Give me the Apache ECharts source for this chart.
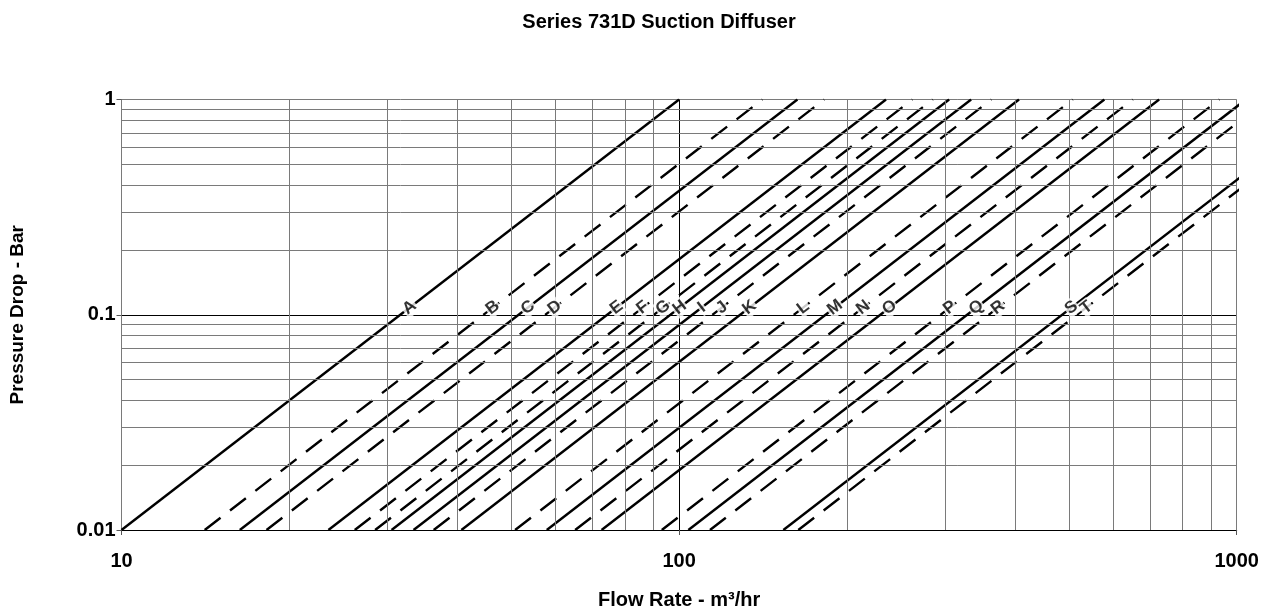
<!DOCTYPE html>
<html>
<head>
<meta charset="utf-8">
<script src="https://cdn.jsdelivr.net/npm/echarts@6/dist/echarts.min.js"></script>
<style>html,body{margin:0;padding:0;background:#fff;}#c{width:1274px;height:615px;}</style>
</head>
<body>
<div id="c"></div>
<script>
// ---- data ----
const lineNames = ['A','B','C','D','E','F','G','H','I','J','K','L','M','N','O','P','Q','R','S','T'];
// flow (m3/hr) where each curve crosses 0.01 bar
const flowAtLowP = [10.0,14.1,16.3,18.2,23.5,26.2,28.5,30.5,33.4,36.3,40.7,50.8,57.9,65.1,72.6,93.1,103.9,113.6,153.8,163.6];
// flow (m3/hr) where each curve crosses 1 bar
const flowAtHighP = [100,141,163,182,235,262,285,305,334,363,407,508,579,651,726,931,1039,1136,1538,1636];
const lineDashed = [false,true,false,true,false,true,true,false,false,true,false,true,false,true,false,true,false,true,false,true];
const lowP = 0.01, highP = 1;
const labelP = 0.108;
const xTickLabels = [10, 100, 1000];
const yTickLabels = [0.01, 0.1, 1];
const xMinorGrid = [20,30,40,50,60,70,80,90,200,300,400,500,600,700,800,900];
const yMinorGrid = [0.02,0.03,0.04,0.05,0.06,0.07,0.08,0.09,0.2,0.3,0.4,0.5,0.6,0.7,0.8,0.9];

const FONT = 'Liberation Sans';
const chart = echarts.init(document.getElementById('c'), null, {renderer:'canvas'});

const series = [];
series.push({
  type:'line', name:'grid', data:[[10,0.01]], showSymbol:false, symbol:'none',
  lineStyle:{opacity:0}, z:1, silent:true,
  markLine:{
    silent:true, symbol:['none','none'], label:{show:false}, animation:false,
    lineStyle:{color:'#7a7a7a', type:'solid', width:1},
    data: xMinorGrid.map(v=>({xAxis:v})).concat(yMinorGrid.map(v=>({yAxis:v})))
  }
});
lineNames.forEach((n,i)=>{
  series.push({
    type:'line', name:n, z:3, clip:true, showSymbol:false, symbol:'none',
    data:[[flowAtLowP[i], lowP],[flowAtHighP[i], highP]],
    lineStyle:{color:'#000', width:2.4, type: lineDashed[i] ? [20,12] : 'solid', cap:'butt'}
  });
});
series.push({
  type:'scatter', name:'labels', z:5, symbolSize:0,
  data: lineNames.map((n,i)=>({name:n, value:[flowAtLowP[i]*Math.sqrt(labelP/lowP), labelP]})),
  label:{show:true, position:'inside', formatter:p=>p.name, rotate:37.6,
    fontFamily:FONT, fontWeight:'bold', fontSize:17, color:'#000',
    backgroundColor:'#fff', padding:[0,1,0,1]}
});

chart.setOption({
  animation:false,
  title:{text:'Series 731D Suction Diffuser', left:654, textAlign:'center', top:7,
    textStyle:{fontFamily:FONT, fontWeight:'bold', fontSize:20, color:'#000'}},
  grid:{left:121.5, right:37.3, top:99.5, bottom:85, containLabel:false, outerBoundsMode:'none'},
  xAxis:{type:'log', logBase:10, min:10, max:1000,
    name:'Flow Rate - m³/hr', nameLocation:'middle', nameGap:60,
    nameTextStyle:{fontFamily:FONT, fontWeight:'bold', fontSize:20, color:'#000'},
    axisLine:{lineStyle:{color:'#000', width:1}},
    axisTick:{show:true, length:5, inside:false, lineStyle:{color:'#555'}},
    axisLabel:{fontFamily:FONT, fontWeight:'bold', fontSize:20, color:'#000', margin:21,
      formatter:v=>String(xTickLabels.find(t=>Math.abs(t-v)/t<1e-6) ?? v)},
    splitLine:{show:true, lineStyle:{color:['#7a7a7a','#000','#7a7a7a'], width:1}}
  },
  yAxis:{type:'log', logBase:10, min:0.01, max:1,
    name:'Pressure Drop - Bar', nameLocation:'middle', nameGap:94,
    nameTextStyle:{fontFamily:FONT, fontWeight:'bold', fontSize:19, color:'#000'},
    axisLine:{show:true, lineStyle:{color:'#7a7a7a', width:1}},
    axisTick:{show:true, length:5, inside:false, lineStyle:{color:'#555'}},
    axisLabel:{fontFamily:FONT, fontWeight:'bold', fontSize:20, color:'#000', margin:6,
      formatter:v=>String(yTickLabels.find(t=>Math.abs(t-v)/t<1e-6) ?? v)},
    splitLine:{show:true, lineStyle:{color:['#000','#000','#7a7a7a'], width:1}}
  },
  series: series
});
</script>
</body>
</html>
